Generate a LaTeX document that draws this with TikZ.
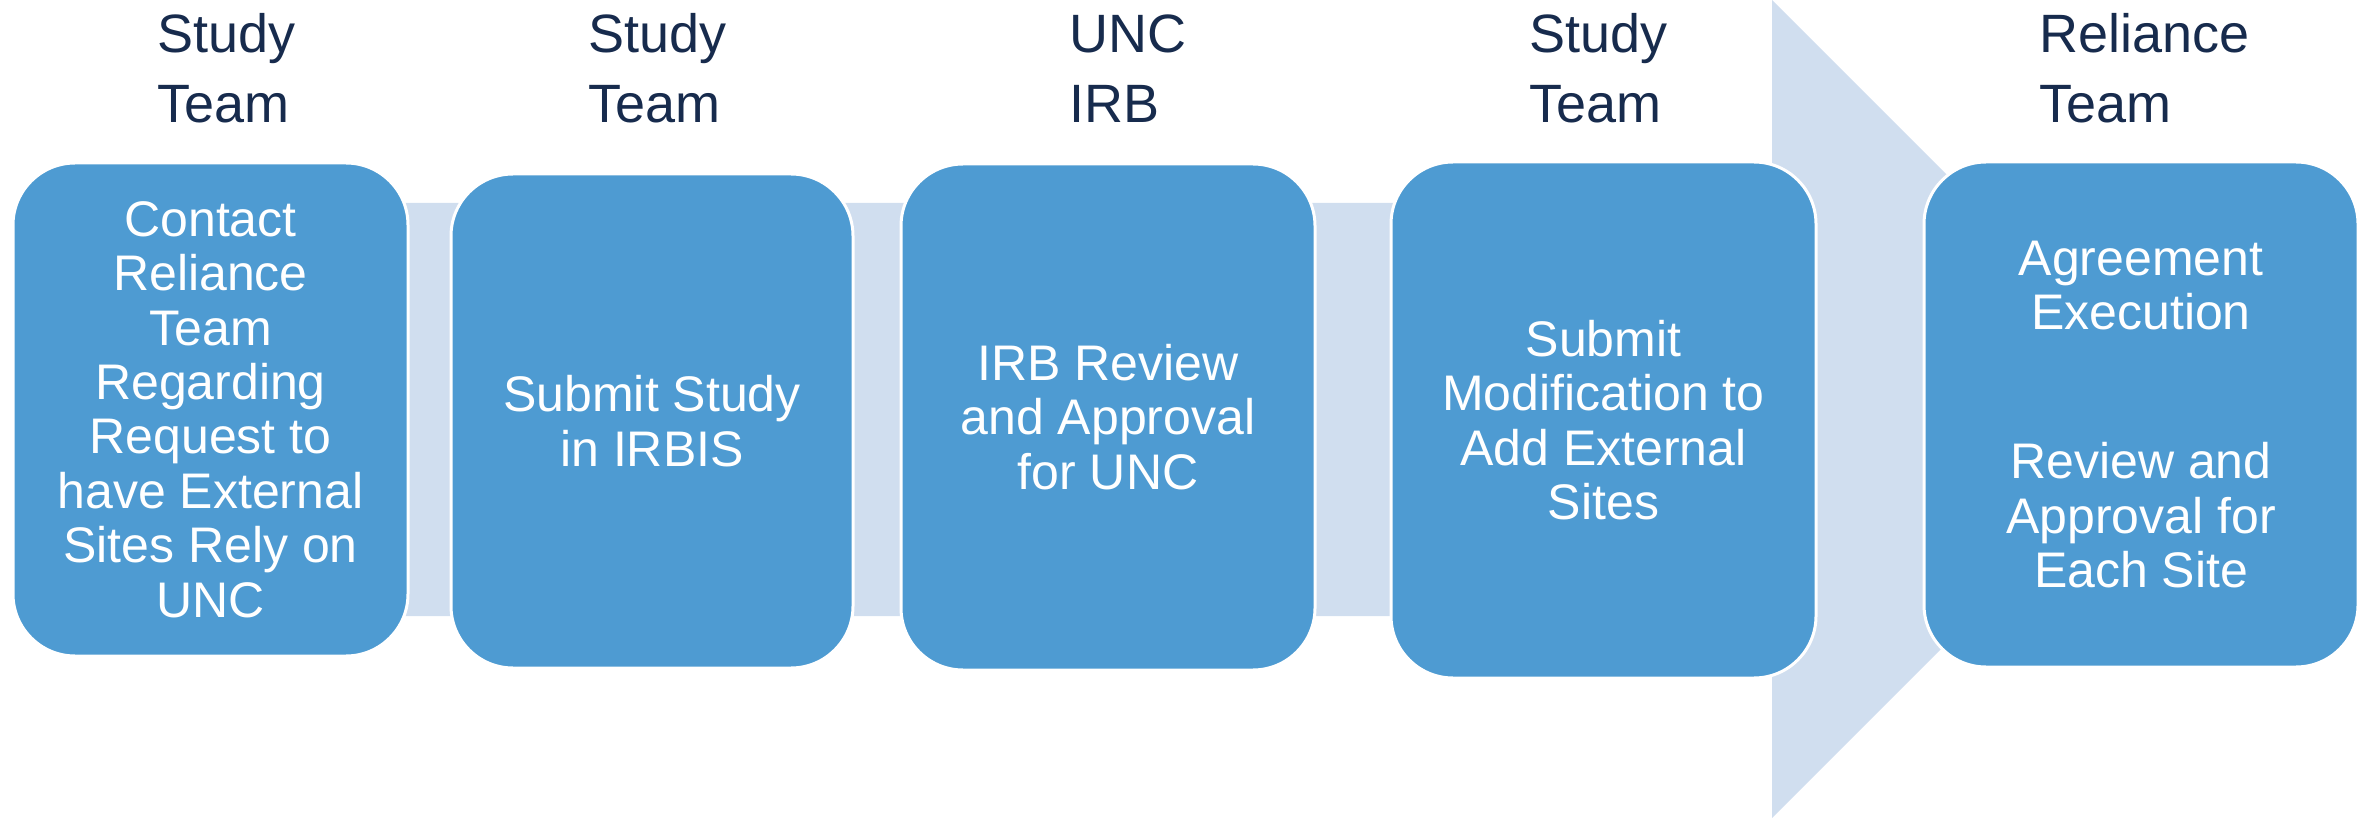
\documentclass[tikz,border=0pt]{standalone}
\usepackage{fontspec}
\setmainfont{Liberation Sans}
\definecolor{boxblue}{RGB}{78,155,210}
\definecolor{bandblue}{RGB}{208,222,239}
\definecolor{headnavy}{RGB}{23,43,77}
\tikzset{
  stepbox/.style={draw=white, line width=3pt, fill=boxblue, rounded corners=62pt,
    inner sep=0pt, align=center, text=white,
    font=\fontsize{50}{54.4}\selectfont},
  header/.style={anchor=base west, inner sep=0pt, align=left, text=headnavy,
    font=\fontsize{54}{70}\selectfont},
}
\begin{document}
\begin{tikzpicture}[x=1pt,y=-1pt]
\useasboundingbox (0,0) rectangle (2369,818);
% background band with arrow
\fill[bandblue] (100,203) -- (1772,203) -- (1772,0) -- (2181,409) -- (1772,818) -- (1772,616) -- (100,616) -- cycle;
% boxes
\node[stepbox, minimum width=395pt, minimum height=493pt] (b1) at (210.5,409.5)
  {Contact\\Reliance\\Team\\Regarding\\Request to\\have External\\Sites Rely on\\UNC};
\node[stepbox, minimum width=402pt, minimum height=494pt] (b2) at (652,421)
  {Submit Study\\in IRBIS};
\node[stepbox, minimum width=414pt, minimum height=506pt] (b3) at (1108,417)
  {IRB Review\\and Approval\\for UNC};
\node[stepbox, minimum width=425pt, minimum height=516pt] (b4) at (1603.5,420)
  {Submit\\Modification to\\Add External\\Sites};
\node[stepbox, minimum width=434pt, minimum height=505pt] (b5) at (2141,414.5)
  {Agreement\\Execution\\[95pt]Review and\\Approval for\\Each Site};
% headers
\node[header] (h1) at (157.5,123) {Study\\Team};
\node[header] (h2) at (588.5,123) {Study\\Team};
\node[header] (h3) at (1069,123) {UNC\\IRB};
\node[header] (h4) at (1529.5,123) {Study\\Team};
\node[header] (h5) at (2039,123) {Reliance\\Team};
\end{tikzpicture}
\end{document}
